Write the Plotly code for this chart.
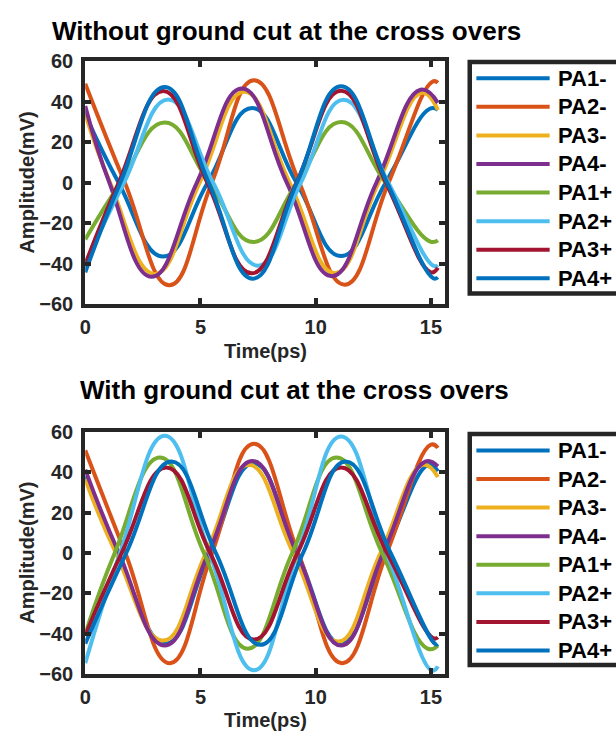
import plotly.graph_objects as go

W, H = 616, 745

names = ["PA1-", "PA2-", "PA3-", "PA4-", "PA1+", "PA2+", "PA3+", "PA4+"]
colors = ["#0072BD", "#D95319", "#EDB120", "#7E2F8E", "#77AC30", "#4DBEEE", "#A2142F", "#0072BD"]

x_ticks = [0, 5, 10, 15]
y_ticks = [-60, -40, -20, 0, 20, 40, 60]

top_title = "Without ground cut at the cross overs"
bottom_title = "With ground cut at the cross overs"

# ---- top panel: key points (time ps, amplitude mV) ----
top_pa1m_t = [0, 1.45, 3.38, 5.31, 7.24, 9.17, 11.1, 13.03, 14.95, 15.3]
top_pa1m_v = [34, 0, -36.5, 0, 37, 0, -36.2, 0, 36.6, 36.0]
top_pa2m_t = [0, 1.72, 3.65, 5.49, 7.32, 9.29, 11.26, 13.16, 15.06, 15.3]
top_pa2m_v = [49, 0, -50.7, 0, 50.7, 0, -50.4, 0, 50, 49.5]
top_pa3m_t = [0, 1.08, 3.02, 4.96, 6.9, 8.87, 10.83, 12.72, 14.6, 15.3]
top_pa3m_v = [34, 0, -45.1, 0, 45, 0, -44.7, 0, 44.5, 36]
top_pa4m_t = [0, 1.05, 2.88, 4.84, 6.8, 8.75, 10.7, 12.63, 14.55, 15.3]
top_pa4m_v = [38, 0, -46.5, 0, 46.6, 0, -46.2, 0, 46, 39.5]
top_pa1p_t = [0, 1.53, 3.45, 5.38, 7.3, 9.2, 11.1, 13.03, 14.95, 15.3]
top_pa1p_v = [-28, 0, 29.8, 0, -29.3, 0, 30, 0, -29, -28.5]
top_pa2p_t = [0, 1.68, 3.6, 5.55, 7.5, 9.35, 11.2, 13.15, 15.1, 15.3]
top_pa2p_v = [-40, 0, 41.2, 0, -41, 0, 41, 0, -41, -40.8]
top_pa3p_t = [0, 1.45, 3.38, 5.3, 7.22, 9.16, 11.1, 13.05, 15.0, 15.3]
top_pa3p_v = [-40.4, 0, 45.4, 0, -44.8, 0, 45.5, 0, -44.3, -42]
top_pa4p_t = [0, 1.52, 3.45, 5.36, 7.27, 9.18, 11.1, 13.1, 15.1, 15.3]
top_pa4p_v = [-44.3, 0, 47.4, 0, -47.5, 0, 47.7, 0, -47.2, -46.8]

# ---- bottom panel ----
bot_pa1m_t = [0, 1.4, 3.5, 5.4, 7.3, 9.2, 11.1, 13.0, 14.9, 15.3]
bot_pa1m_v = [38.2, 0, -45, 0, 44.6, 0, -45, 0, 43.8, 40.6]
bot_pa2m_t = [0, 1.74, 3.67, 5.5, 7.32, 9.24, 11.15, 13.08, 15.0, 15.3]
bot_pa2m_v = [51, 0, -54.7, 0, 54.2, 0, -54.7, 0, 53.8, 52.2]
bot_pa3m_t = [0, 1.33, 3.38, 5.24, 7.1, 9.03, 10.97, 12.81, 14.65, 15.3]
bot_pa3m_v = [36.6, 0, -43.5, 0, 43.8, 0, -44, 0, 43.8, 37.8]
bot_pa4m_t = [0, 1.46, 3.45, 5.35, 7.25, 9.18, 11.1, 12.93, 14.75, 15.3]
bot_pa4m_v = [41.4, 0, -45.9, 0, 45.7, 0, -45.9, 0, 45.4, 43]
bot_pa1p_t = [0, 1.28, 3.24, 5.15, 7.05, 8.98, 10.9, 12.88, 14.85, 15.3]
bot_pa1p_v = [-40.3, 0, 47.4, 0, -47.5, 0, 47.4, 0, -47.5, -46]
bot_pa2p_t = [0, 1.51, 3.45, 5.39, 7.32, 9.21, 11.1, 13.08, 15.05, 15.3]
bot_pa2p_v = [-54.7, 0, 58.2, 0, -58.2, 0, 57.9, 0, -58.4, -56.3]
bot_pa3p_t = [0, 1.58, 3.52, 5.42, 7.32, 9.21, 11.1, 13.1, 15.1, 15.3]
bot_pa3p_v = [-41, 0, 42.5, 0, -43, 0, 42.5, 0, -42.3, -41.9]
bot_pa4p_t = [0, 1.78, 3.74, 5.67, 7.6, 9.45, 11.3, 13.25, 15.2, 15.3]
bot_pa4p_v = [-45, 0, 45.4, 0, -45.6, 0, 45.4, 0, -45.3, -45.2]

top_series = [
    (top_pa1m_t, top_pa1m_v), (top_pa2m_t, top_pa2m_v), (top_pa3m_t, top_pa3m_v), (top_pa4m_t, top_pa4m_v),
    (top_pa1p_t, top_pa1p_v), (top_pa2p_t, top_pa2p_v), (top_pa3p_t, top_pa3p_v), (top_pa4p_t, top_pa4p_v),
]
bot_series = [
    (bot_pa1m_t, bot_pa1m_v), (bot_pa2m_t, bot_pa2m_v), (bot_pa3m_t, bot_pa3m_v), (bot_pa4m_t, bot_pa4m_v),
    (bot_pa1p_t, bot_pa1p_v), (bot_pa2p_t, bot_pa2p_v), (bot_pa3p_t, bot_pa3p_v), (bot_pa4p_t, bot_pa4p_v),
]


def px(x):
    return x / W


def py(y):
    return 1 - y / H


FONT = "Liberation Sans, Arial, sans-serif"
AXC = "#262626"

fig = go.Figure()
for (t, v), nm, c in zip(top_series, names, colors):
    fig.add_trace(go.Scatter(x=t, y=v, name=nm, mode="lines", showlegend=False,
                             line=dict(color=c, width=4, shape="spline", smoothing=1.3),
                             xaxis="x", yaxis="y"))
for (t, v), nm, c in zip(bot_series, names, colors):
    fig.add_trace(go.Scatter(x=t, y=v, name=nm, mode="lines", showlegend=False,
                             line=dict(color=c, width=4, shape="spline", smoothing=1.3),
                             xaxis="x2", yaxis="y2"))

xdom = [px(80), px(443.8)]
xrange_ = [0, 15.63]


def xax(anchor):
    return dict(domain=xdom, range=xrange_, tickvals=x_ticks, ticks="inside", ticklen=6,
                tickwidth=4, tickcolor=AXC, showline=True, linewidth=4, linecolor=AXC,
                mirror="allticks", showgrid=False, zeroline=False, anchor=anchor,
                ticklabelstandoff=2,
                tickfont=dict(family=FONT, size=20, color=AXC, weight="bold"))


def yax(dom, anchor):
    return dict(domain=dom, range=[-60, 60], tickvals=y_ticks, ticks="inside", ticklen=6,
                tickwidth=4, tickcolor=AXC, showline=True, linewidth=4, linecolor=AXC,
                mirror="allticks", showgrid=False, zeroline=False, anchor=anchor,
                ticklabelstandoff=4,
                tickfont=dict(family=FONT, size=20, color=AXC, weight="bold"))


panels = [
    dict(top=52, bottom=302, title=top_title, title_x=283.5, title_y=21, leg_top=52.5, leg_bottom=291),
    dict(top=434, bottom=683, title=bottom_title, title_x=291.5, title_y=391, leg_top=436, leg_bottom=674),
]

annotations = []
shapes = []
for i, p in enumerate(panels):
    annotations.append(dict(text=p["title"], x=px(p["title_x"]), y=py(p["title_y"]), xref="paper",
                            yref="paper", xanchor="center", yanchor="middle", showarrow=False,
                            font=dict(family=FONT, size=26, color="#000000", weight="bold")))
    annotations.append(dict(text="Amplitude(mV)", x=px(21), y=py((p["top"] + p["bottom"]) / 2),
                            xref="paper", yref="paper", xanchor="center", yanchor="middle",
                            textangle=-90, showarrow=False,
                            font=dict(family=FONT, size=20, color=AXC, weight="bold")))
    annotations.append(dict(text="Time(ps)", x=px(262), y=py(p["bottom"] + 48), xref="paper",
                            yref="paper", xanchor="center", yanchor="middle", showarrow=False,
                            font=dict(family=FONT, size=20, color=AXC, weight="bold")))
    shapes.append(dict(type="rect", xref="paper", yref="paper", x0=px(468.3), x1=px(660),
                       y0=py(p["leg_top"]), y1=py(p["leg_bottom"]),
                       line=dict(color=AXC, width=4.5), fillcolor="white", layer="below"))
    for k, (nm, c) in enumerate(zip(names, colors)):
        yc = p["leg_top"] + 16.8 + k * 29.45
        shapes.append(dict(type="line", xref="paper", yref="paper", x0=px(475), x1=px(549),
                           y0=py(yc), y1=py(yc), line=dict(color=c, width=4)))
        annotations.append(dict(text=nm, x=px(555), y=py(yc), xref="paper", yref="paper",
                                xanchor="left", yanchor="middle", showarrow=False,
                                font=dict(family=FONT, size=22, color="#000000", weight="bold")))

fig.update_layout(
    width=W, height=H, autosize=False,
    margin=dict(l=0, r=0, t=0, b=0, pad=0),
    paper_bgcolor="white", plot_bgcolor="white",
    xaxis=xax("y"), yaxis=yax([py(302), py(52)], "x"),
    xaxis2=xax("y2"), yaxis2=yax([py(683), py(434)], "x2"),
    annotations=annotations, shapes=shapes,
    showlegend=False,
)

fig.write_html("out.html")
